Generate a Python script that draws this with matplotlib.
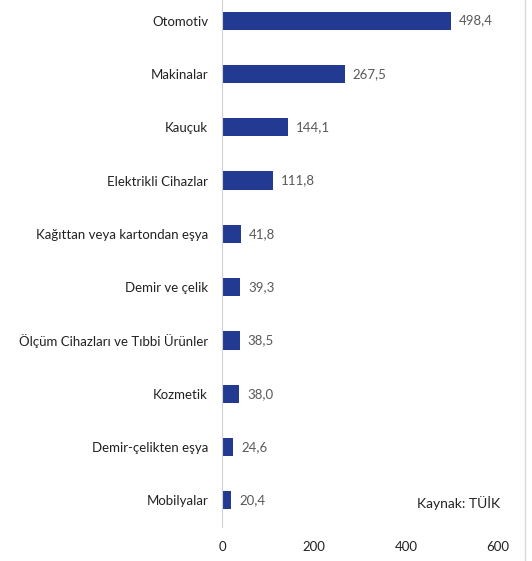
import matplotlib.pyplot as plt
from matplotlib.lines import Line2D

categories = ["Otomotiv", "Makinalar", "Kauçuk", "Elektrikli Cihazlar",
              "Kağıttan veya kartondan eşya", "Demir ve çelik",
              "Ölçüm Cihazları ve Tıbbi Ürünler", "Kozmetik",
              "Demir-çelikten eşya", "Mobilyalar"]
values = [498.4, 267.5, 144.1, 111.8, 41.8, 39.3, 38.5, 38.0, 24.6, 20.4]
xticks = [0, 200, 400, 600]

plt.rcParams['font.family'] = ['Lato', 'DejaVu Sans']

fig = plt.figure(figsize=(5.32, 5.61), dpi=100)
ax = fig.add_axes([222 / 532, 34 / 561, 276 / 532, 533 / 561])

pos = list(range(len(categories)))
ax.barh(pos, values, height=0.34, color="#233A93")
for p, v in zip(pos, values):
    ax.text(v + 17, p, f"{v:.1f}".replace(".", ","), va="center", ha="left",
            fontsize=9.5, color="#595959")

ax.set_ylim(len(categories) - 0.5, -0.5)
ax.set_xlim(0, 600)
ax.set_yticks(pos)
ax.set_yticklabels(categories, fontsize=9.5, color="#222222")
ax.set_xticks(xticks)
ax.set_xticklabels([str(t) for t in xticks], fontsize=9.5, color="#222222")
ax.tick_params(length=0, axis="y", pad=10)
ax.tick_params(length=0, axis="x", pad=10)
for s in ["top", "right", "bottom"]:
    ax.spines[s].set_visible(False)
ax.spines["left"].set_color("#d0d0d0")

ax.text(1.008, 0.045, "Kaynak: TÜİK", transform=ax.transAxes, ha="right",
        va="center", fontsize=10, color="#222222")

fig.add_artist(Line2D([525 / 532, 525 / 532], [0, 1], color="#d9d9d9", lw=1))

fig.savefig("out.png", dpi=100)
